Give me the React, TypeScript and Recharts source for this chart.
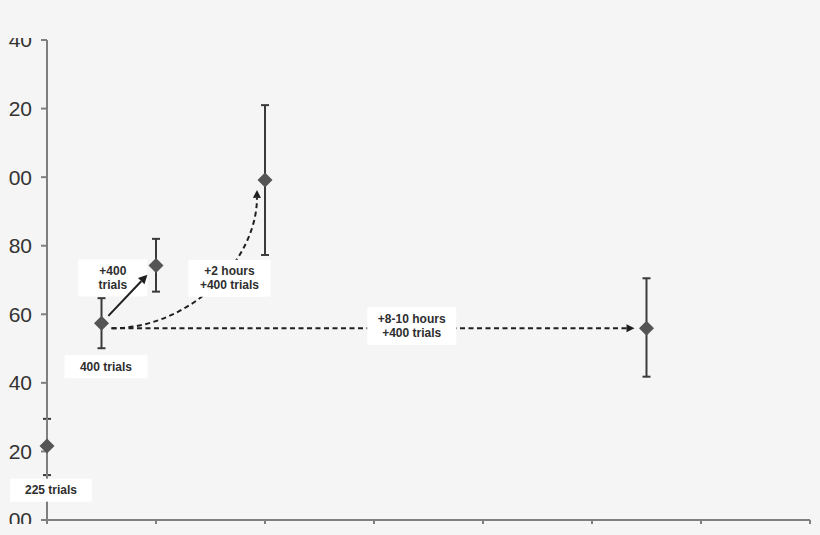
import {
  ErrorBar,
  ReferenceDot,
  ReferenceLine,
  Scatter,
  ScatterChart,
  XAxis,
  YAxis,
} from "recharts";

// sessions (x position on the axis), means and asymmetric error bars
const sessions = [0, 0.5, 1, 2, 5.5];
const means = [221.6, 257.4, 274.2, 299.2, 255.9];
const errLow = [8.5, 7.3, 7.6, 21.9, 14.1];
const errHigh = [7.9, 7.3, 7.8, 21.8, 14.6];

const xTicks = [0, 1, 2, 3, 4, 5, 6, 7];
const yTicks = [200, 220, 240, 260, 280, 300, 320, 340];

// annotation boxes: text lines and anchor in data units
const noteText = [
  ["225 trials"],
  ["400 trials"],
  ["+400", "trials"],
  ["+2 hours", "+400 trials"],
  ["+8-10 hours", "+400 trials"],
];
const noteX = [0.037, 0.541, 0.604, 1.674, 3.346];
const noteY = [208.7, 244.7, 270.6, 270.5, 256.6];

const points = sessions.map((x, i) => ({
  x,
  y: means[i],
  err: [errLow[i], errHigh[i]],
}));

const boxSize = [
  [82, 23],
  [83, 23],
  [69, 37],
  [82, 37],
  [89, 38],
];

const INK = "#1f1f1f";
const AXIS = "#7f7f7f";

function head(tx: number, ty: number, ux: number, uy: number, len = 8, w = 4) {
  const bx = tx - ux * len;
  const by = ty - uy * len;
  const pts = `${tx},${ty} ${bx - uy * w},${by + ux * w} ${bx + uy * w},${by - ux * w}`;
  return { bx, by, poly: <polygon points={pts} fill={INK} /> };
}

function unit(dx: number, dy: number) {
  const d = Math.hypot(dx, dy) || 1;
  return [dx / d, dy / d];
}

const StraightArrow = (dashed: boolean, startGap: number, endGap: number) =>
  (p: any) => {
    const [ux, uy] = unit(p.x2 - p.x1, p.y2 - p.y1);
    const sx = p.x1 + ux * startGap;
    const sy = p.y1 + uy * startGap;
    const tx = p.x2 - ux * endGap;
    const ty = p.y2 - uy * endGap;
    const h = head(tx, ty, ux, uy, dashed ? 8 : 9, dashed ? 4 : 4.5);
    return (
      <g>
        <line
          x1={sx}
          y1={sy}
          x2={h.bx}
          y2={h.by}
          stroke={INK}
          strokeWidth={2}
          strokeDasharray={dashed ? "5 3.5" : undefined}
        />
        {h.poly}
      </g>
    );
  };

const CurvedArrow = (p: any) => {
  const sx = p.x1 + 10;
  const sy = p.y1;
  const ex = p.x2 - 8;
  const ey = p.y2 + 10;
  const c1x = sx + 0.54 * (ex - sx);
  const c2y = sy - 0.49 * (sy - ey);
  const [ux, uy] = unit(0.4, ey - c2y);
  const h = head(ex, ey, ux, uy, 8, 4);
  return (
    <g>
      <path
        d={`M${sx},${sy} C${c1x},${sy} ${h.bx},${c2y} ${h.bx},${h.by}`}
        fill="none"
        stroke={INK}
        strokeWidth={2}
        strokeDasharray="5 3.5"
      />
      {h.poly}
    </g>
  );
};

const Diamond = (p: any) => {
  const r = 7.5;
  return (
    <polygon
      points={`${p.cx},${p.cy - r} ${p.cx + r},${p.cy} ${p.cx},${p.cy + r} ${p.cx - r},${p.cy}`}
      fill="#555555"
    />
  );
};

const noteShape = (i: number) => (p: any) => {
  const [w, h] = boxSize[i];
  const lines = noteText[i];
  return (
    <g>
      <rect x={p.cx - w / 2} y={p.cy - h / 2} width={w} height={h} fill="#ffffff" />
      {lines.map((t, k) => (
        <text
          key={k}
          x={p.cx}
          y={p.cy + (k - (lines.length - 1) / 2) * 14}
          textAnchor="middle"
          dominantBaseline="central"
          fontSize={12}
          fontWeight="bold"
          fill="#2e2e2e"
        >
          {t}
        </text>
      ))}
    </g>
  );
};

export default function App() {
  return (
    <div
      style={{
        position: "absolute",
        left: 0,
        top: 0,
        width: 820,
        height: 535,
        background: "#f5f5f5",
        overflow: "hidden",
        fontFamily: "'Liberation Sans', Arial, sans-serif",
      }}
    >
      <div
        style={{
          position: "absolute",
          left: 8,
          top: 38,
          width: 812,
          height: 486,
          overflow: "hidden",
        }}
      >
        <div style={{ position: "absolute", left: -8, top: -38 }}>
          <ScatterChart
            width={820}
            height={535}
            margin={{ top: 40, right: 10, bottom: 0, left: 0 }}
          >
            <XAxis
              type="number"
              dataKey="x"
              domain={[0, 7]}
              ticks={xTicks}
              tickFormatter={() => ""}
              height={15}
              tickSize={6}
              axisLine={{ stroke: AXIS, strokeWidth: 2 }}
              tickLine={{ stroke: AXIS, strokeWidth: 2 }}
            />
            <YAxis
              type="number"
              dataKey="y"
              domain={[200, 340]}
              ticks={yTicks}
              width={47}
              tickSize={6}
              tickMargin={9}
              axisLine={{ stroke: AXIS, strokeWidth: 2 }}
              tickLine={{ stroke: AXIS, strokeWidth: 2 }}
              tick={{ fontSize: 21, fill: "#333333" }}
            />
            <ReferenceLine
              segment={[
                { x: sessions[1], y: means[4] },
                { x: sessions[4], y: means[4] },
              ]}
              shape={StraightArrow(true, 10, 12)}
            />
            <ReferenceLine
              segment={[
                { x: sessions[1], y: means[4] },
                { x: sessions[3], y: means[3] },
              ]}
              shape={CurvedArrow}
            />
            <Scatter data={points} shape={Diamond} isAnimationActive={false}>
              <ErrorBar
                dataKey="err"
                direction="y"
                width={4}
                stroke="#3a3a3a"
                strokeWidth={2}
                isAnimationActive={false}
              />
            </Scatter>
            {noteText.map((_, i) => (
              <ReferenceDot
                key={i}
                x={noteX[i]}
                y={noteY[i]}
                r={1}
                shape={noteShape(i)}
              />
            ))}
            <ReferenceLine
              {...({ zIndex: 2000 } as any)}
              segment={[
                { x: sessions[1], y: means[1] },
                { x: sessions[2], y: means[2] },
              ]}
              shape={StraightArrow(false, 10, 12.5)}
            />
          </ScatterChart>
        </div>
      </div>
    </div>
  );
}
